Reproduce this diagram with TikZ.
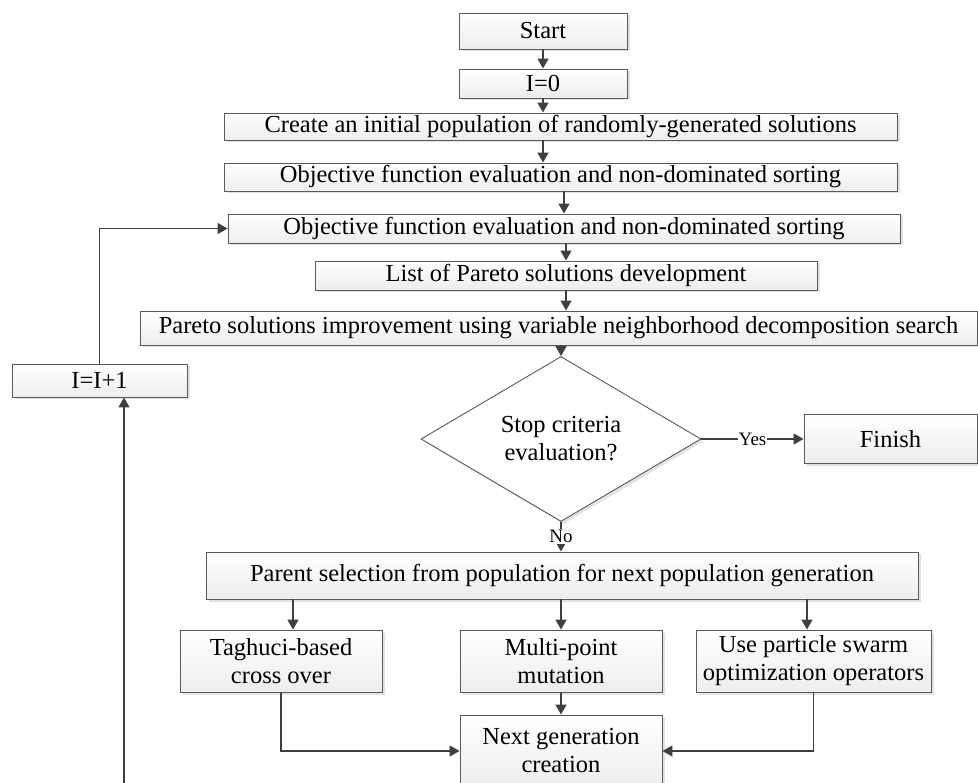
\documentclass[tikz,border=0pt]{standalone}
\usepackage{fontspec}
\setmainfont{Liberation Serif}
\usetikzlibrary{shapes.geometric,arrows.meta,shadows}
\definecolor{linegray}{HTML}{404040}
\definecolor{edgegray}{HTML}{5A5A5A}
\tikzset{
    box/.style={draw=edgegray, line width=0.9pt, top color=white, bottom color=gray!14,
        drop shadow={shadow xshift=2.5pt, shadow yshift=-2.5pt, fill=gray!45},
        inner sep=0pt, align=center, font=\fontsize{24.5}{28}\selectfont},
    decision/.style={diamond, draw=edgegray, line width=0.9pt, fill=white,
        drop shadow={shadow xshift=2.5pt, shadow yshift=-2.5pt, fill=gray!45},
        inner sep=0pt, align=center, font=\fontsize{24.5}{28}\selectfont},
    flow/.style={draw=linegray, line width=1.5pt, -{Triangle[length=10pt,width=11pt]}},
    answer/.style={fill=white, inner sep=1pt, font=\fontsize{19}{22}\selectfont}
}

\begin{document}
\begin{tikzpicture}[x=1pt,y=-1pt]
            \useasboundingbox (0,0) rectangle (978,783);
            % main column
            \node[box, minimum width=168, minimum height=36] (start) at (543,31) {Start};
            \node[box, minimum width=168, minimum height=29] (izero) at (543,83.5) {I=0};
            \node[box, minimum width=673, minimum height=27] (init) at (560.5,126.5)
                {Create an initial population of randomly-generated solutions};
            \node[box, minimum width=673, minimum height=28] (evalA) at (560.5,177)
                {Objective function evaluation and non-dominated sorting};
            \node[box, minimum width=672, minimum height=29] (evalB) at (564,228.5)
                {Objective function evaluation and non-dominated sorting};
            \node[box, minimum width=502, minimum height=29] (paretolist) at (566,275.5)
                {List of Pareto solutions development};
            \node[box, minimum width=837, minimum height=34] (improve) at (558.5,328)
                {Pareto solutions improvement using variable neighborhood decomposition search};
            \node[box, minimum width=175, minimum height=33] (incr) at (99.5,380.5) {I=I+1};
            \node[decision, minimum width=280, minimum height=138] (stop) at (561,439)
                {Stop criteria\\evaluation?};
            \node[box, minimum width=173, minimum height=49] (finish) at (890.5,439) {Finish};
            \node[box, minimum width=712, minimum height=47] (parent) at (562,575.5)
                {Parent selection from population for next population generation};
            % operators
            \node[box, minimum width=202, minimum height=62] (cross) at (281,661)
                {Taghuci-based\\cross over};
            \node[box, minimum width=202, minimum height=62] (mutate) at (561,661)
                {Multi-point\\mutation};
            \node[box, minimum width=235, minimum height=62] (swarm) at (813.5,661)
                {Use particle swarm\\optimization operators};
            \node[box, minimum width=202, minimum height=72] (nextgen) at (561,751)
                {Next generation\\creation};

            \coordinate (crossin) at ([xshift=12pt]cross.north);
            \coordinate (swarmin) at ([xshift=-6.5pt]swarm.north);
            \coordinate (loopin) at (124,795);

            % connectors
            \draw[flow] (start) -- (izero);
            \draw[flow] (izero) -- (izero |- init.north);
            \draw[flow] (init.south -| izero) -- (evalA.north -| izero);
            \draw[flow] (evalB.north |- evalA.south) -- (evalB.north);
            \draw[flow] (paretolist.north |- evalB.south) -- (paretolist.north);
            \draw[flow] (paretolist.south) -- (paretolist.south |- improve.north);
            \draw[flow] (stop.north |- improve.south) -- (stop.north);
            \draw[flow] (stop.east) -- (finish.west) node[answer, pos=0.5] {Yes};
            \draw[flow] (stop.south) -- (stop.south |- parent.north) node[answer, midway] {No};
            \draw[flow] (crossin |- parent.south) -- (crossin);
            \draw[flow] (mutate.north |- parent.south) -- (mutate.north);
            \draw[flow] (swarmin |- parent.south) -- (swarmin);
            \draw[flow] (cross.south) |- (nextgen.west);
            \draw[flow] (mutate) -- (nextgen);
            \draw[flow] (swarm.south) |- (nextgen.east);
            % feedback loop
            \draw[flow] (loopin) -- (loopin |- incr.south);
            \draw[flow] (incr.north) |- (evalB.west);
        \end{tikzpicture}
\end{document}
